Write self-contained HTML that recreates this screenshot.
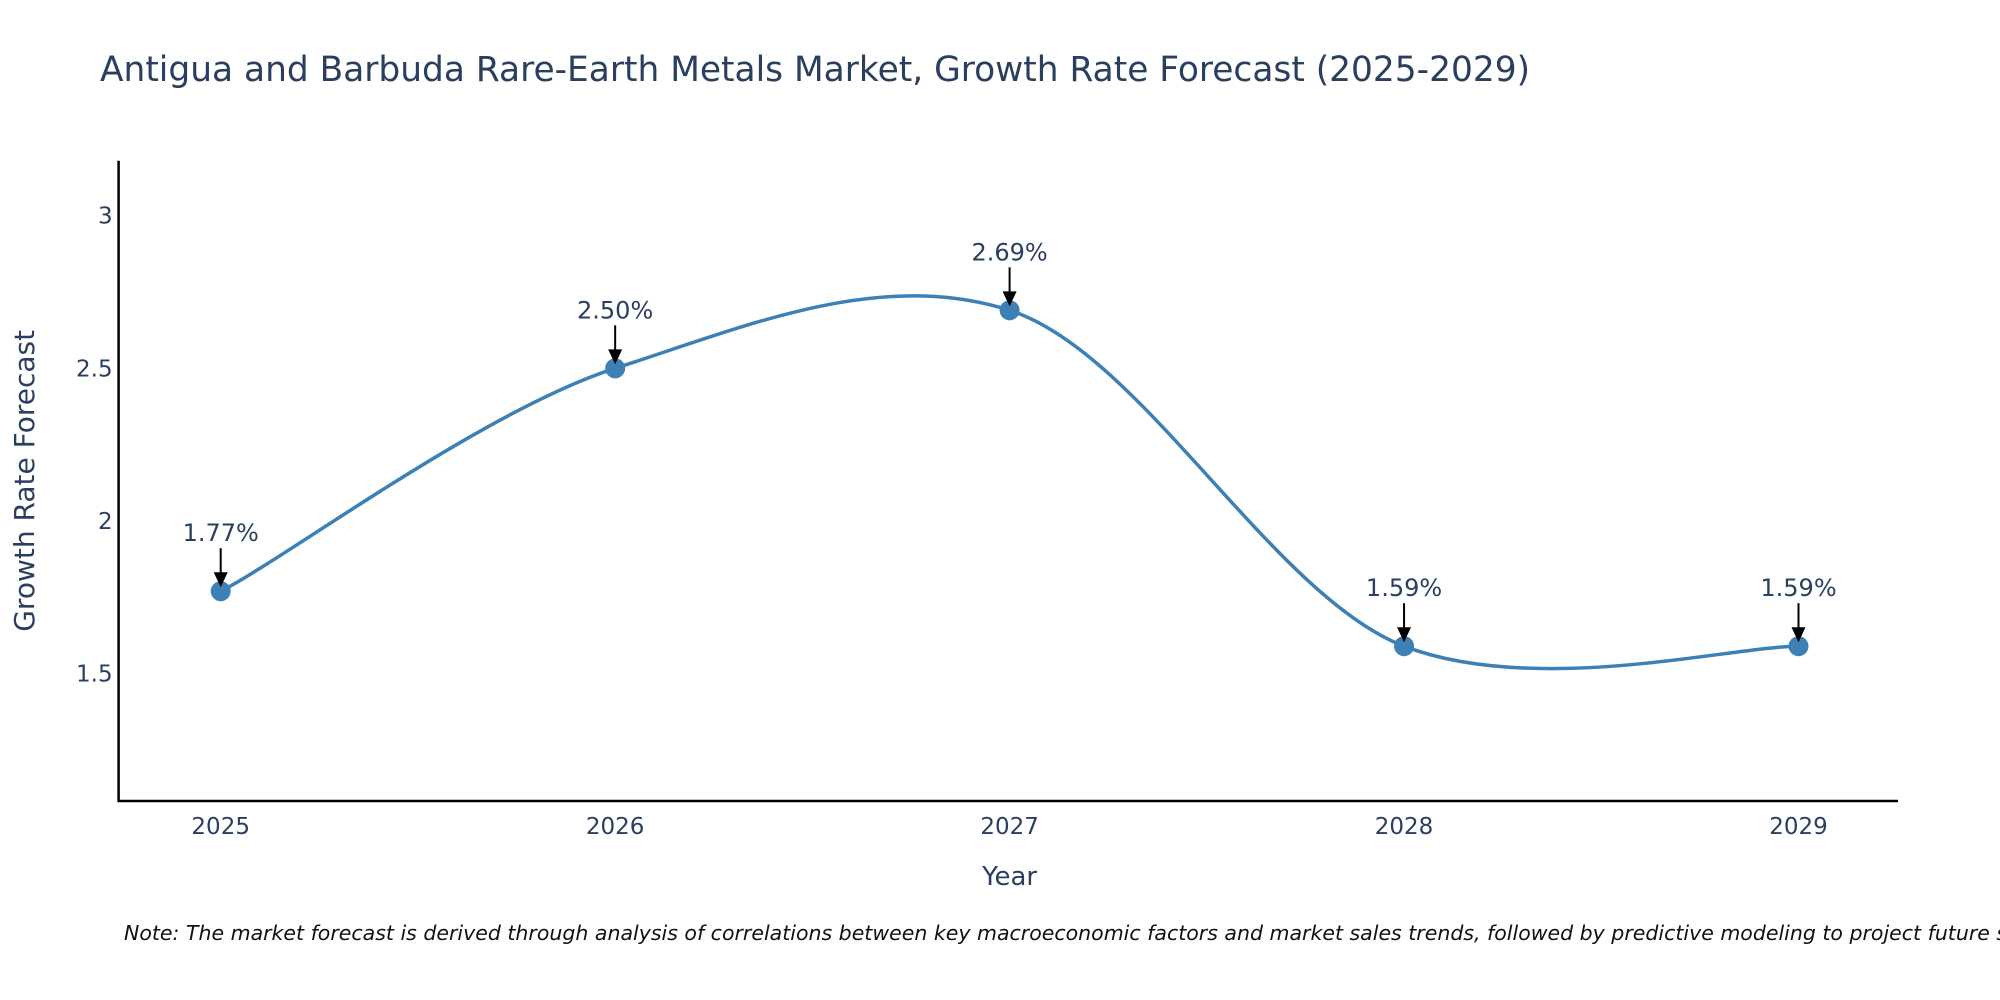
<!DOCTYPE html>
<html><head><meta charset="utf-8"><style>
body{margin:0;background:#fff;}
svg{display:block;font-family:"DejaVu Sans","Liberation Sans",sans-serif;}
</style></head><body>
<svg id="chart" width="2000" height="1000" viewBox="0 0 2000 1000">
<rect width="2000" height="1000" fill="#fff"/>
<text x="100" y="81" font-size="34.4" fill="#2a3f5f">Antigua and Barbuda Rare-Earth Metals Market, Growth Rate Forecast (2025-2029)</text>
<g id="plot"></g>
<text x="124" y="940" font-size="20.5" font-style="italic" fill="#111">Note: The market forecast is derived through analysis of correlations between key macroeconomic factors and market sales trends, followed by predictive modeling to project future sales.</text>
</svg>
<script>
const years=[2025,2026,2027,2028,2029];
const values=[1.77,2.50,2.69,1.59,1.59];
const labels=["1.77%","2.50%","2.69%","1.59%","1.59%"];
const yTicks=[1.5,2,2.5,3];
const NS="http://www.w3.org/2000/svg";
const g=document.getElementById('plot');
const L=118.6,R=1898,T=160.7,B=801;
const yMin=1.083,yMax=3.18;
function xs(v){return 220.7+(v-2025)*394.45;}
function ys(v){return B-(v-yMin)/(yMax-yMin)*(B-T);}
function mk(tag,attrs,name){const e=document.createElementNS(NS,tag);for(const k in attrs)e.setAttribute(k,attrs[k]);


g.appendChild(e);return e;}
mk('line',{x1:L,y1:T,x2:L,y2:B+1,stroke:'#000','stroke-width':2.5},'y-axis-line');
mk('line',{x1:L-1,y1:B,x2:R,y2:B,stroke:'#000','stroke-width':2.5},'x-axis-line');
yTicks.forEach(t=>{const e=mk('text',{x:L-6,y:ys(t)+8,'font-size':23,fill:'#2a3f5f','text-anchor':'end'},'y-tick-label');e.textContent=String(t);});
years.forEach(y=>{const e=mk('text',{x:xs(y),y:B+33,'font-size':23,fill:'#2a3f5f','text-anchor':'middle'},'x-tick-label');e.textContent=String(y);});
let t=mk('text',{x:xs(2027),y:885,'font-size':26,fill:'#2a3f5f','text-anchor':'middle'},'x-axis-title');t.textContent='Year';
t=mk('text',{x:0,y:0,'font-size':28,fill:'#2a3f5f','text-anchor':'middle',transform:`translate(34,${(T+B)/2}) rotate(-90)`},'y-axis-title');t.textContent='Growth Rate Forecast';
// spline
const P=years.map((y,i)=>[xs(y),ys(values[i])]);
let d=`M${P[0][0]},${P[0][1]}`;const k=0.5;
for(let i=0;i<P.length-1;i++){const p0=P[i-1]||P[i],p1=P[i],p2=P[i+1],p3=P[i+2]||P[i+1];
const c1=[p1[0]+(p2[0]-p0[0])*k/3,p1[1]+(p2[1]-p0[1])*k/3*0.9];
const c2=[p2[0]-(p3[0]-p1[0])*k/3,p2[1]-(p3[1]-p1[1])*k/3*0.9];
d+=` C${c1[0]},${c1[1]} ${c2[0]},${c2[1]} ${p2[0]},${p2[1]}`;}
mk('path',{d:d,fill:'none',stroke:'#3d80b5','stroke-width':3.5},'growth-line');
P.forEach((p,i)=>{
mk('circle',{cx:p[0],cy:p[1],r:10,fill:'#3d80b5'},'data-point');
mk('line',{x1:p[0],y1:p[1]-43,x2:p[0],y2:p[1]-18,stroke:'#000','stroke-width':2},'annotation-arrow');
mk('polygon',{points:`${p[0]-7},${p[1]-19} ${p[0]+7},${p[1]-19} ${p[0]},${p[1]-4}`,fill:'#000'},'annotation-arrowhead');
const e=mk('text',{x:p[0],y:p[1]-50,'font-size':24,fill:'#2a3f5f','text-anchor':'middle'},'annotation-label');e.textContent=labels[i];
});
</script>
</body></html>
